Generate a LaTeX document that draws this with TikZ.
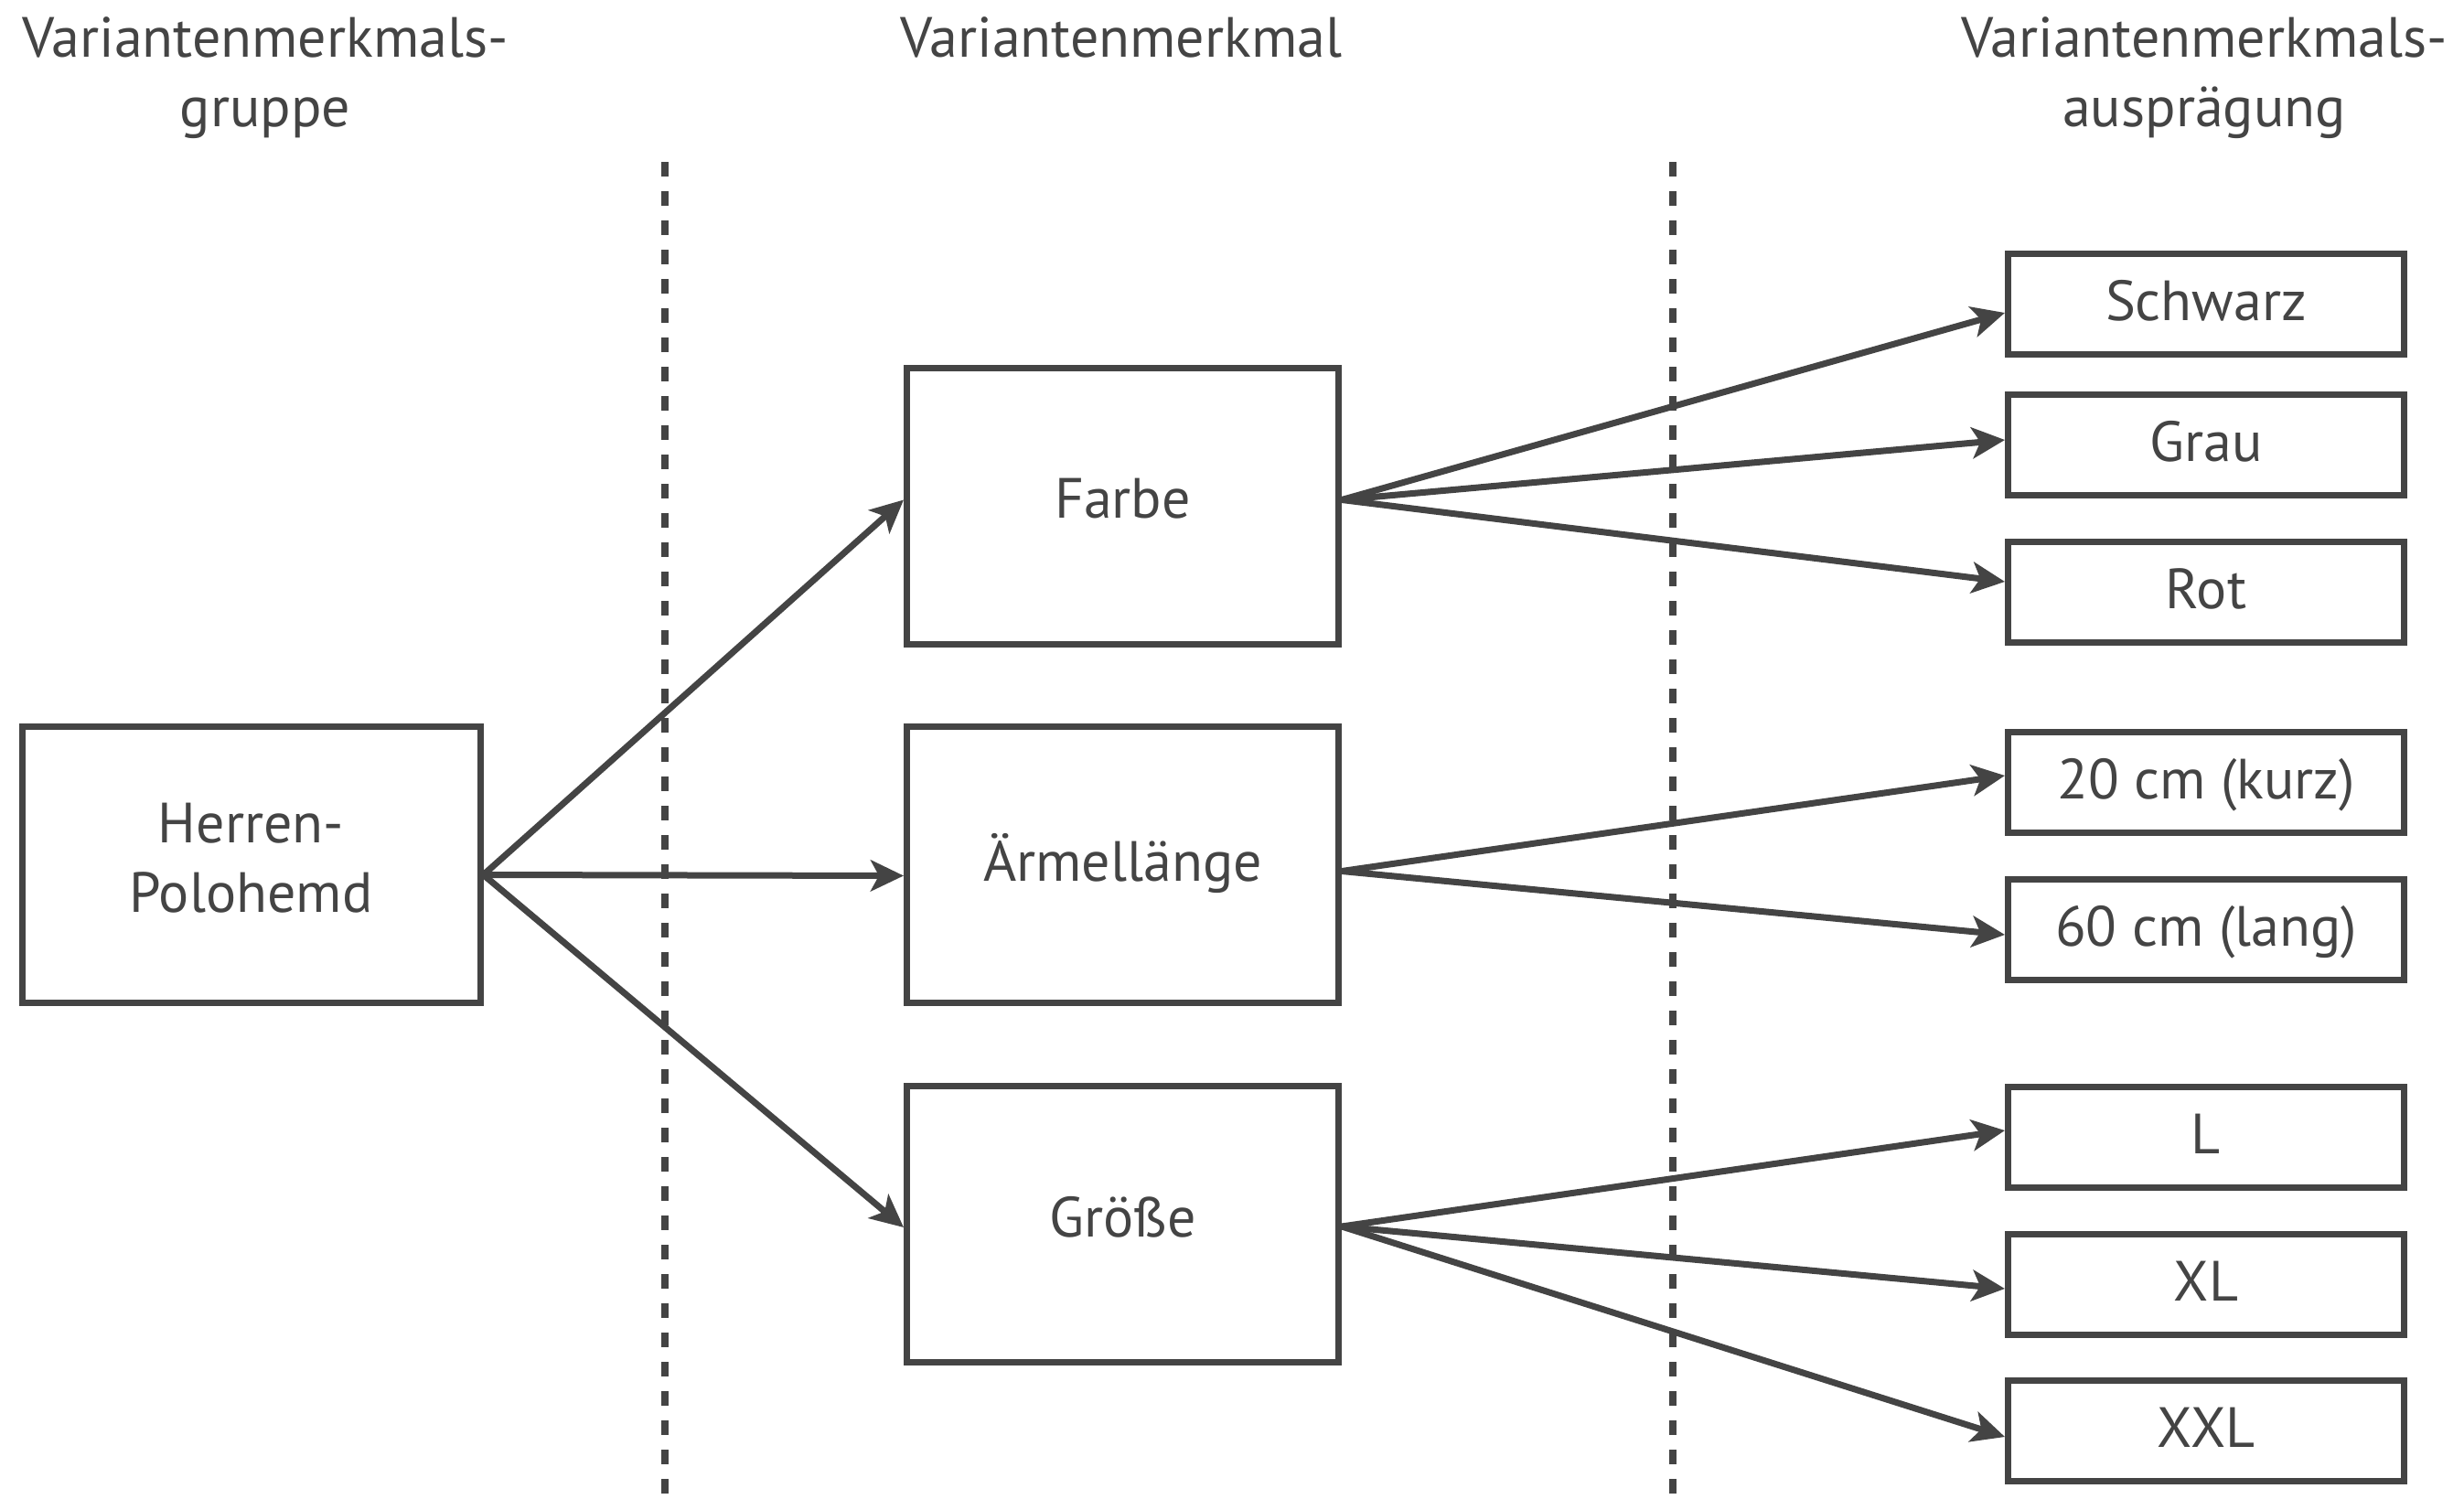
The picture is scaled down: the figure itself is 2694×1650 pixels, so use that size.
\documentclass[tikz,border=0pt]{standalone}
\usepackage{fontspec}
\setmainfont{PT Sans}
\usetikzlibrary{arrows.meta}
\definecolor{ink}{HTML}{444444}
\begin{document}
\begin{tikzpicture}[x=1pt,y=-1pt,
  every node/.style={text=ink, font=\fontsize{62}{76}\selectfont},
  box/.style={draw=ink, line width=7pt, inner sep=0pt, align=center},
  bigbox/.style={box, minimum width=472pt, minimum height=302pt, text depth=16pt},
  valbox/.style={box, minimum width=433pt, minimum height=110pt, text depth=7pt},
  head/.style={align=center, inner sep=0pt, anchor=base},
  link/.style={draw=ink, line width=7pt, -{Stealth[length=36pt,width=34pt,inset=9pt]}},
  divider/.style={draw=ink, line width=8pt, dash pattern=on 16pt off 16pt}]

\useasboundingbox (0,0) rectangle (2694,1650);
\fill[white] (0,0) rectangle (2694,1650);

% column headings (base anchor sits on the last line)
\node[head] (h1) at (290,138) {Variantenmerkmals-\\gruppe};
\node[head] (h2) at (1226,62) {Variantenmerkmal};
\node[head] (h3) at (2410,138) {Variantenmerkmals-\\ausprägung};

% column dividers
\coordinate (d1a) at (727,177);
\coordinate (d1b) at (727,1636);
\coordinate (d2a) at (1829,177);
\coordinate (d2b) at (1829,1636);
\draw[divider] (d1a) -- (d1b);
\draw[divider] (d2a) -- (d2b);

% product group
\node[box, minimum width=501pt, minimum height=302pt, text depth=14pt] (herren) at (274.5,945) {Herren-\\Polohemd};

% features
\node[bigbox] (farbe) at (1227.5,553) {Farbe};
\node[bigbox] (aermel) at (1227.5,945) {Ärmellänge};
\node[bigbox] (groesse) at (1227.5,1338) {Größe};

% feature values
\node[valbox] (schwarz) at (2412,332) {Schwarz};
\node[valbox] (grau) at (2412,486) {Grau};
\node[valbox] (rot) at (2412,647) {Rot};
\node[valbox] (kurz) at (2412,855) {20 cm (kurz)};
\node[valbox] (lang) at (2412,1016) {60 cm (lang)};
\node[valbox] (gl) at (2412,1243) {L};
\node[valbox] (gxl) at (2412,1404) {XL};
\node[valbox] (gxxl) at (2412,1564) {XXL};

% group -> features
\draw[link] ([yshift=-11.5pt]herren.east) -- ([yshift=6.5pt]farbe.west);
\draw[link] ([yshift=-11.5pt]herren.east) -- ([yshift=-12.5pt]aermel.west);
\draw[link] ([yshift=-11.5pt]herren.east) -- ([yshift=-4pt]groesse.west);

% features -> values
\draw[link] ([yshift=6.5pt]farbe.east) -- ([yshift=-10pt]schwarz.west);
\draw[link] ([yshift=6.5pt]farbe.east) -- ([yshift=5pt]grau.west);
\draw[link] ([yshift=6.5pt]farbe.east) -- ([yshift=11pt]rot.west);
\draw[link] ([yshift=-7.5pt]aermel.east) -- ([yshift=7pt]kurz.west);
\draw[link] ([yshift=-7.5pt]aermel.east) -- ([yshift=-6pt]lang.west);
\draw[link] ([yshift=-3pt]groesse.east) -- ([yshift=7pt]gl.west);
\draw[link] ([yshift=-3pt]groesse.east) -- ([yshift=-5pt]gxl.west);
\draw[link] ([yshift=-3pt]groesse.east) -- ([yshift=-7pt]gxxl.west);
\end{tikzpicture}
\end{document}
